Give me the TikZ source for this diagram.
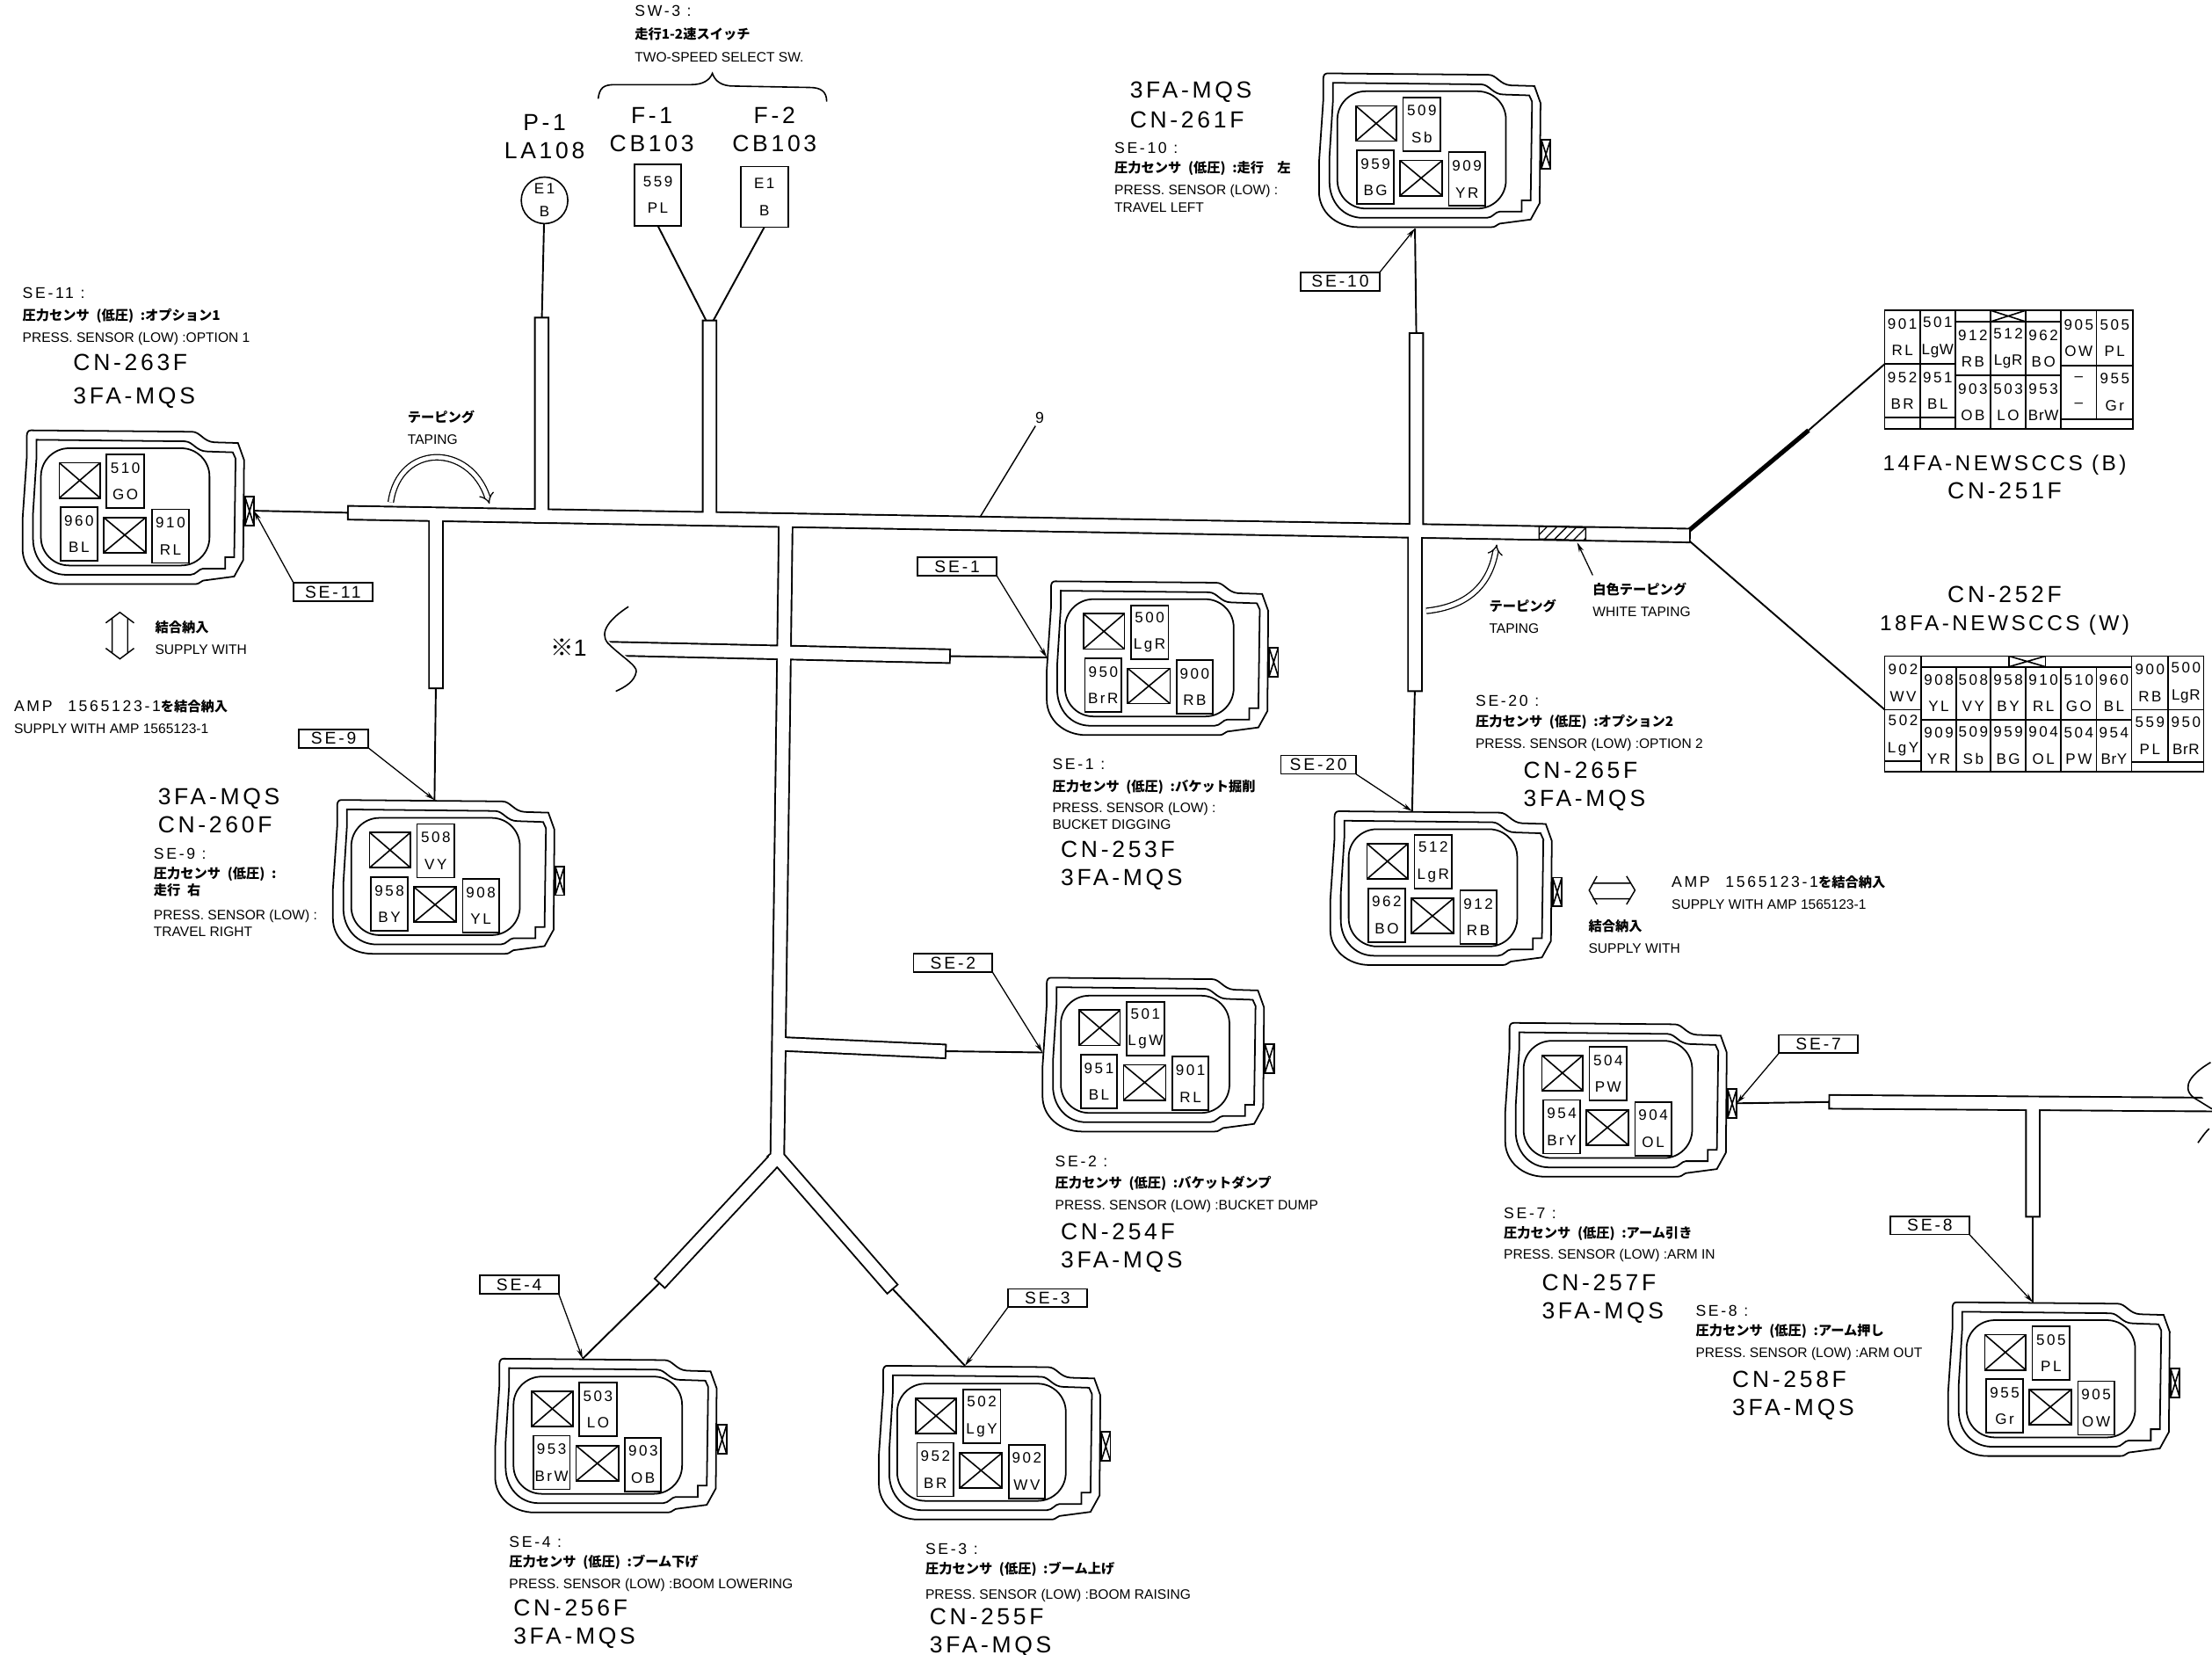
\documentclass[tikz,border=0pt]{standalone}
\usepackage{fontspec}
\usepackage{tikz}
\usetikzlibrary{arrows.meta, patterns.meta}
\setmainfont{Liberation Sans}
\newfontfamily\cellfont[LetterSpace=15]{Liberation Sans}
\newfontfamily\bigfont[LetterSpace=14]{Liberation Sans}
\newfontfamily\jpfont{Noto Sans CJK JP}
\newcommand\hdr[1]{{\cellfont\fontsize{11}{15.5}\selectfont #1}}
\newcommand\jp[1]{{\jpfont\bfseries\fontsize{9.5}{15.5}\selectfont #1}}
\newcommand\tight[1]{{\addfontfeature{LetterSpace=4}#1}}
\newcommand\prs{圧力センサ\enspace(低圧)\enspace:}
\newcommand\wirecell[6]{\node (#1) [wirecell, minimum width = #4pt, minimum height = #5pt] at (#2,#3) {#6};}
\newcommand\deadcell[5]{\node (#1) [wirecell, crossbox, minimum width = #4pt, minimum height = #5pt] at (#2,#3) {};}
\newcommand\sensor[9]{%
  \begin{scope}[shift = {(#2,#3)}]
    \draw [shell] (6,0) -- (120,1) .. controls (126,1) and (128,8) .. (136,8.5) -- (152.7,9) -- (157,21)
      -- (156.4,92) -- (150,103.6) -- (128,106.5) .. controls (125,108) and (125,109) .. (122,109) -- (28,109)
      .. controls (12,109) and (0,98) .. (0,84) -- (0,63) -- (3,19) -- (3,4) .. controls (3,1.5) and (4,0) .. (6,0) -- cycle;
    \draw [shell] (9.9,6.7) -- (115,7.8) .. controls (121,8) and (123,15) .. (131,15) -- (149,15.6) -- (151,20)
      -- (150,90) -- (143.6,90) -- (143.6,98) -- (128,98) .. controls (125,98) and (123,102.4) .. (119,102.4) -- (31,102.4)
      .. controls (17,102.4) and (7.4,91) .. (7.4,76.8) -- (7.4,59) -- (9.9,19) -- cycle;
    \draw [shell, rounded corners = 20pt] (13,12.7) rectangle (132.5,95.8);
    \deadcell{#1a}{26}{23}{29}{25}
    \wirecell{#1b}{59.6}{17}{26.6}{38}{#4\\#5}
    \wirecell{#1c}{27}{54.6}{26}{38}{#6\\#7}
    \deadcell{#1d}{57.4}{61.7}{30}{25}
    \wirecell{#1e}{92}{56}{25.7}{38}{#8\\#9}
    \node (#1f) [wirecell, crossbox, minimum width = 6.5pt, minimum height = 20.5pt] at (157.6,47) {};
    \coordinate (#1tab) at (164,57);
  \end{scope}}

\begin{document}
\begin{tikzpicture}[x = 1pt, y = -1pt,
    every node/.style = { inner sep = 0pt, outer sep = 0pt },
    wirecell/.style = { draw, line width = 1.1pt, anchor = north west, align = center,
      font = \cellfont\fontsize{10.6}{19}\selectfont },
    crossbox/.style = { path picture = {
      \draw [line width = 1pt] (path picture bounding box.north west) -- (path picture bounding box.south east)
        (path picture bounding box.north east) -- (path picture bounding box.south west); } },
    shell/.style = { line width = 1.1pt },
    wire/.style = { line width = 1.2pt },
    leader/.style = { line width = .8pt, -{Stealth[length = 7pt, width = 3.5pt]} },
    harness/.style = { line width = 1.2pt, double = white, double distance = 8.5pt, line cap = rect },
    tapearrow/.style = { line width = .8pt, double = white, double distance = 3pt, -{Implies[scale = 1.5]} },
    seflag/.style = { draw, line width = 1.1pt, minimum width = 56pt, minimum height = 13pt,
      font = \cellfont\fontsize{12}{12}\selectfont },
    smalltext/.style = { anchor = north west, align = left, font = \fontsize{9.7}{15.5}\selectfont },
    bigtext/.style = { anchor = north west, align = left, font = \bigfont\fontsize{16.5}{20}\selectfont },
    bigmid/.style = { bigtext, anchor = center, align = center } ]

    \path [use as bounding box, fill = white] (0,0) rectangle (1568,1173);

    % connectors
    \sensor{se11}{16}{305}{510}{GO}{960}{BL}{910}{RL}
    \sensor{se9}{236}{567}{508}{VY}{958}{BY}{908}{YL}
    \sensor{se10}{935}{52}{509}{Sb}{959}{BG}{909}{YR}
    \sensor{se1}{742}{412}{500}{LgR}{950}{BrR}{900}{RB}
    \sensor{se2}{739}{693}{501}{LgW}{951}{BL}{901}{RL}
    \sensor{se20}{943}{575}{512}{LgR}{962}{BO}{912}{RB}
    \sensor{se7}{1067}{725}{504}{PW}{954}{BrY}{904}{OL}
    \sensor{se8}{1381}{923}{505}{PL}{955}{Gr}{905}{OW}
    \sensor{se4}{351}{963}{503}{LO}{953}{BrW}{903}{OB}
    \sensor{se3}{623}{968}{502}{LgY}{952}{BR}{902}{WV}

    % upper table
    \wirecell{u901}{1336}{220}{25}{38}{901\\RL}
    \wirecell{u501}{1361}{220}{25}{38}{501\\\tight{LgW}}
    \wirecell{u952}{1336}{258}{25}{38}{952\\BR}
    \wirecell{u951}{1361}{258}{25}{38}{951\\BL}
    \wirecell{ua}{1336}{296}{25}{8}{}
    \wirecell{ub}{1361}{296}{25}{8}{}
    \wirecell{uc}{1386}{220}{25}{8}{}
    \deadcell{ud}{1411}{220}{25}{8}
    \wirecell{ue}{1436}{220}{25}{8}{}
    \wirecell{u912}{1386}{228}{25}{38}{912\\RB}
    \wirecell{u512}{1411}{228}{25}{38}{512\\\tight{LgR}}
    \wirecell{u962}{1436}{228}{25}{38}{962\\BO}
    \wirecell{u903}{1386}{266}{25}{38}{903\\OB}
    \wirecell{u503}{1411}{266}{25}{38}{503\\LO}
    \wirecell{u953}{1436}{266}{25}{38}{953\\\tight{BrW}}
    \wirecell{u905}{1461}{220}{25}{39}{905\\OW}
    \wirecell{u505}{1486}{220}{26}{39}{505\\PL}
    \wirecell{uf}{1461}{259}{25}{38}{–\\–}
    \wirecell{u955}{1486}{259}{26}{38}{955\\Gr}
    \wirecell{ug}{1461}{297}{51}{7}{}

    % lower table
    \wirecell{l902}{1336}{465}{26}{38}{902\\WV}
    \wirecell{l502}{1336}{503}{26}{36.5}{502\\LgY}
    \wirecell{la}{1336}{539.5}{26}{7.5}{}
    \wirecell{lb}{1362}{465}{62}{7.6}{}
    \deadcell{lc}{1424}{465}{26}{7.6}
    \wirecell{ld}{1450}{465}{61}{7.6}{}
    \wirecell{l908}{1362}{472.6}{24.5}{37.4}{908\\YL}
    \wirecell{l508}{1386.5}{472.6}{24.5}{37.4}{508\\VY}
    \wirecell{l958}{1411}{472.6}{25}{37.4}{958\\BY}
    \wirecell{l910}{1436}{472.6}{25}{37.4}{910\\RL}
    \wirecell{l510}{1461}{472.6}{25}{37.4}{510\\GO}
    \wirecell{l960}{1486}{472.6}{25}{37.4}{960\\BL}
    \wirecell{l909}{1362}{510}{24.5}{37}{909\\YR}
    \wirecell{l509}{1386.5}{510}{24.5}{37}{509\\Sb}
    \wirecell{l959}{1411}{510}{25}{37}{959\\BG}
    \wirecell{l904}{1436}{510}{25}{37}{904\\OL}
    \wirecell{l504}{1461}{510}{25}{37}{504\\PW}
    \wirecell{l954}{1486}{510}{25}{37}{954\\\tight{BrY}}
    \wirecell{l900}{1511}{465}{26}{38}{900\\RB}
    \wirecell{l500}{1537}{465}{25}{38}{500\\\tight{LgR}}
    \wirecell{l559}{1511}{503}{26}{37}{559\\PL}
    \wirecell{l950}{1537}{503}{25}{37}{950\\\tight{BrR}}
    \wirecell{le}{1511}{540}{51}{7}{}

    % switch and pin
    \node (p1) [draw, circle, line width = 1pt, minimum size = 33pt, align = center,
      font = \cellfont\fontsize{10.6}{16}\selectfont] at (386,142) {E1\\B};
    \wirecell{f1}{449.6}{116.3}{33.4}{43.7}{559\\PL}
    \wirecell{f2}{525}{118}{33.6}{43}{E1\\B}
    \node (p1name) [bigmid] at (386,97) {P-1\\LA108};
    \node (f1name) [bigmid] at (462,92) {F-1\\CB103};
    \node (f2name) [bigmid] at (549,92) {F-2\\CB103};
    \node (sw3) [smalltext, font = \fontsize{9.7}{16}\selectfont] at (450,4)
      {\hdr{SW-3 :}\\ \jp{走行1-2速スイッチ}\\ TWO-SPEED SELECT SW.};
    \draw [line width = 1pt] (424,70) .. controls (425,62) and (428,60) .. (436,60) -- (490,60)
      .. controls (498,60) and (503,57) .. (505,52) .. controls (507,58) and (512,61) .. (520,61)
      -- (574,62) .. controls (582,62) and (586,65) .. (586,72);

    % harness points
    \coordinate (trunkl) at (251.5,363.5);
    \coordinate (trunkr) at (1193,379.5);
    \coordinate (stubp) at (384,230);
    \coordinate (stubf) at (503,232);
    \coordinate (stub9) at (309,483);
    \coordinate (stub10) at (1004,241);
    \coordinate (stub20) at (1003,485);
    \coordinate (stub1) at (668.5,465);
    \coordinate (stub2) at (665.5,745);
    \coordinate (stub4) at (471,906);
    \coordinate (stub3) at (629.4,910);
    \coordinate (fork) at (551,820);
    \coordinate (stub7) at (1301.5,781);
    \coordinate (stub8) at (1441,857.5);
    \coordinate (in9) at (308,567);
    \coordinate (in10) at (1003,162);
    \coordinate (in1) at (742,466);
    \coordinate (in2) at (739,746);
    \coordinate (in20) at (1001,575);
    \coordinate (in8) at (1441,923);
    \coordinate (in4) at (413,963);
    \coordinate (in3) at (684,968);

    % single wires go under the harness
    \draw [wire] (se11tab) -- (trunkl);
    \draw [wire] (p1) -- (stubp);
    \draw [wire] (f1.south) -- (stubf);
    \draw [wire] (f2.south) -- (stubf);
    \draw [wire] (stub9) -- (in9);
    \draw [wire] (stub10) -- (in10);
    \draw [wire] (stub20) -- (in20);
    \draw [wire] (stub1) -- (in1);
    \draw [wire] (stub2) -- (in2);
    \draw [wire] (stub4) -- (in4);
    \draw [wire] (stub3) -- (in3);
    \draw [wire] (se7tab) -- (stub7);
    \draw [wire] (stub8) -- (in8);
    \draw [line width = 3.2pt] (trunkr) -- (1282,305);
    \draw [wire] (1282,305) -- (u901.south west);
    \draw [wire] (trunkr) -- (l902.south west);

    % harness
    \draw [harness] (trunkl) -- (trunkr)
      (309,364.5) -- (stub9)
      (384,365.8) -- (stubp)
      (503,367.8) -- (stubf)
      (1004,376.3) -- (stub10)
      (1003,376.3) -- (stub20)
      (557,368.7) -- (fork) -- (stub4)
      (fork) -- (stub3)
      (425,459.6) -- (stub1)
      (555,740) -- (stub2)
      (stub7) -- (1585,783)
      (1441,782) -- (stub8);

    % cut ends
    \fill [white] (415,448) -- (431,448) -- (431,454) -- (446,467) -- (415,467) -- cycle;
    \fill [white] (1555,771) -- (1575,771) -- (1575,785.5) -- (1568.5,785.5) -- cycle;
    \draw [line width = 1pt] (445.5,430) .. controls (433,438) and (424,448) .. (431,456)
      .. controls (440,465) and (452,472) .. (451,476) .. controls (450,483) and (443,487) .. (436.5,490);
    \draw [line width = 1pt] (1567,753) .. controls (1555,760) and (1545,770) .. (1555,778) -- (1568,786);
    \draw [line width = 1pt] (1566,800) .. controls (1563,803) .. (1558,810);
    \node (cut1) [font = \bigfont\fontsize{16.5}{20}\selectfont] at (403,459) {{\jpfont ※}1};

    % white tape
    \draw [line width = .9pt, pattern = {Lines[angle = 45, distance = 5pt, line width = .8pt]}]
      (1091,373) -- (1124,374) -- (1124,383) -- (1091,382) -- cycle;
    \node (tapew) [smalltext] at (1129,413) {\jp{白色テーピング}\\ WHITE TAPING};
    \draw [leader] (1129,407.7) -- (1118,384.5);

    % taping arrows
    \draw [tapearrow] (277,356) .. controls (283,314) and (333,314) .. (347,357);
    \draw [tapearrow] (1011,433) .. controls (1040,430) and (1056,415) .. (1061,386);
    \node (tape1) [smalltext] at (289,291) {\jp{テーピング}\\ TAPING};
    \node (tape2) [smalltext] at (1055.6,425) {\jp{テーピング}\\ TAPING};

    % trunk mark
    \node (n9) [font = \cellfont\fontsize{11}{12}\selectfont] at (737,296) {9};
    \draw [line width = .9pt] (n9.south) ++(-3,2) -- (695,366);

    % flags
    \node (lse11) [seflag] at (236,419.5) {SE-11};
    \node (lse9) [seflag, minimum width = 49pt] at (236.5,523.5) {SE-9};
    \node (lse10) [seflag] at (950,199.5) {SE-10};
    \node (lse1) [seflag] at (678.5,401.5) {SE-1};
    \node (lse2) [seflag] at (675.5,682.5) {SE-2};
    \node (lse20) [seflag, minimum width = 53pt] at (934.5,542) {SE-20};
    \node (lse7) [seflag] at (1289,740) {SE-7};
    \node (lse8) [seflag] at (1368,868.5) {SE-8};
    \node (lse4) [seflag] at (368,910.5) {SE-4};
    \node (lse3) [seflag] at (742.5,920) {SE-3};
    \draw [leader] (lse11.north west) -- (se11tab);
    \draw [leader] (lse9.south east) -- (in9);
    \draw [leader] (lse10.north east) -- (in10);
    \draw [leader] (lse1.south east) -- (in1);
    \draw [leader] (lse2.south east) -- (in2);
    \draw [leader] (lse20.south east) -- (in20);
    \draw [leader] (lse7.south west) -- (se7tab);
    \draw [leader] (lse8.south east) -- (in8);
    \draw [leader] (lse4.south east) -- (in4);
    \draw [leader] (lse3.south west) -- (in3);

    % notes
    \node (t11) [smalltext] at (16,204) {\hdr{SE-11 :}\\ \jp{\prs オプション1}\\ PRESS. SENSOR (LOW) :OPTION 1};
    \node (c11) [bigtext] at (52,251) {CN-263F\\[4pt]3FA-MQS};
    \node (t9) [smalltext] at (109,601) {\hdr{SE-9 :}\\[-1.5pt] \jp{\prs}\\[-3.5pt] \jp{走行\enspace 右}\\[1.5pt] PRESS. SENSOR (LOW) :\\[-3.5pt] TRAVEL RIGHT};
    \node (c9) [bigtext] at (112,559) {3FA-MQS\\CN-260F};
    \node (t10) [smalltext] at (790,101) {\hdr{SE-10 :}\\[-1.5pt] \jp{\prs 走行\quad 左}\\ PRESS. SENSOR (LOW) :\\[-3.5pt] TRAVEL LEFT};
    \node (c10) [bigtext] at (801,58) {3FA-MQS\\[1pt]CN-261F};
    \node (t1) [smalltext] at (746,538) {\hdr{SE-1 :}\\ \jp{\prs バケット掘削}\\[-1pt] PRESS. SENSOR (LOW) :\\[-3.5pt] BUCKET DIGGING};
    \node (c1) [bigtext] at (752,596) {CN-253F\\3FA-MQS};
    \node (t2) [smalltext] at (748,819) {\hdr{SE-2 :}\\ \jp{\prs バケットダンプ}\\ PRESS. SENSOR (LOW) :BUCKET DUMP};
    \node (c2) [bigtext] at (752,867) {CN-254F\\3FA-MQS};
    \node (t20) [smalltext] at (1046,493) {\hdr{SE-20 :}\\[-1.5pt] \jp{\prs オプション2}\\ PRESS. SENSOR (LOW) :OPTION 2};
    \node (c20) [bigtext] at (1080,540) {CN-265F\\3FA-MQS};
    \node (t7) [smalltext] at (1066,856) {\hdr{SE-7 :}\\[-2pt] \jp{\prs アーム引き}\\ PRESS. SENSOR (LOW) :ARM IN};
    \node (c7) [bigtext] at (1093,903) {CN-257F\\3FA-MQS};
    \node (t8) [smalltext] at (1202,925) {\hdr{SE-8 :}\\[-1.5pt] \jp{\prs アーム押し}\\ PRESS. SENSOR (LOW) :ARM OUT};
    \node (c8) [bigtext] at (1228,972) {CN-258F\\3FA-MQS};
    \node (t4) [smalltext] at (361,1089) {\hdr{SE-4 :}\\[-1.5pt] \jp{\prs ブーム下げ}\\ PRESS. SENSOR (LOW) :BOOM LOWERING};
    \node (c4) [bigtext] at (364,1134) {CN-256F\\3FA-MQS};
    \node (t3) [smalltext] at (656,1094) {\hdr{SE-3 :}\\[-1.5pt] \jp{\prs ブーム上げ}\\[2pt] PRESS. SENSOR (LOW) :BOOM RAISING};
    \node (c3) [bigtext] at (659,1140) {CN-255F\\3FA-MQS};

    % table names
    \node (c251) [bigmid, font = \bigfont\fontsize{15.2}{20}\selectfont] at (1421,338) {14FA-NEWSCCS (B)\\{\fontsize{16.5}{20}\selectfont CN-251F}};
    \node (c252) [bigmid, font = \bigfont\fontsize{15.2}{20}\selectfont] at (1421,433) {{\fontsize{16.5}{20}\selectfont CN-252F}\\18FA-NEWSCCS (W)};

    % supply notes
    \draw [line width = .9pt] (75,441.5) -- (85,434) -- (95,441.5) (75,459.5) -- (85,467) -- (95,459.5)
      (79.5,438) -- (79.5,463) (90.5,438) -- (90.5,463);
    \draw [line width = .9pt] (1132,621) -- (1126.5,631) -- (1132,641) (1153,621) -- (1159,631) -- (1153,641)
      (1129,626) -- (1156,626) (1129,637) -- (1156,637);
    \node (sup1) [smalltext] at (110,440) {\jp{結合納入}\\ SUPPLY WITH};
    \node (amp1) [smalltext] at (10,496) {\hdr{AMP\quad 1565123-1}\jp{を結合納入}\\ SUPPLY WITH AMP 1565123-1};
    \node (sup2) [smalltext] at (1126,652) {\jp{結合納入}\\ SUPPLY WITH};
    \node (amp2) [smalltext] at (1185,621) {\hdr{AMP\quad 1565123-1}\jp{を結合納入}\\ SUPPLY WITH AMP 1565123-1};

\end{tikzpicture}
\end{document}
